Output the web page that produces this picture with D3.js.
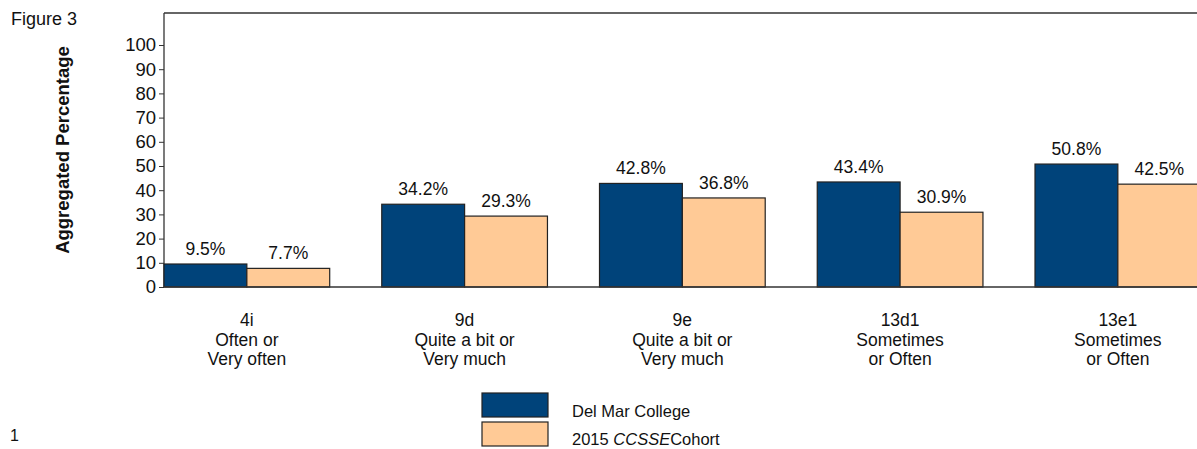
<!DOCTYPE html>
<html><head><meta charset="utf-8">
<script src="https://cdn.jsdelivr.net/npm/d3@7"></script>
<style>body{margin:0;background:#fff}svg{display:block;font-family:"Liberation Sans",Arial,sans-serif}</style>
</head><body><svg id="c" width="1197" height="449"></svg>
<script>
const categories = ["4i","9d","9e","13d1","13e1"];
const categoryLines = [["4i","Often or","Very often"],["9d","Quite a bit or","Very much"],["9e","Quite a bit or","Very much"],["13d1","Sometimes","or Often"],["13e1","Sometimes","or Often"]];
const seriesNames = ["Del Mar College","2015 CCSSE Cohort"];
const delMar = [9.5,34.2,42.8,43.4,50.8];
const cohort = [7.7,29.3,36.8,30.9,42.5];
const yTicks = [0,10,20,30,40,50,60,70,80,90,100];
const colors = ["#00437A","#FFCA96"];

(function(){
const svg = d3.select("#c");
const mLeft = 164, mBottom = 287, mTop = 13;
const step = 217.75;
const x0 = d3.scaleBand().domain(categories).range([mLeft, mLeft + step*categories.length]).paddingInner(0.239).paddingOuter(0.1195).align(0);
const x1 = d3.scaleBand().domain([0,1]).range([0, x0.bandwidth()]);
const y = d3.scaleLinear().domain([0,100]).range([mBottom, 45]);

svg.append("line").attr("x1",mLeft).attr("x2",1197).attr("y1",mTop).attr("y2",mTop).attr("stroke","#333").attr("stroke-width",1.3);
svg.append("line").attr("x1",mLeft).attr("x2",mLeft).attr("y1",mTop).attr("y2",mBottom).attr("stroke","#333").attr("stroke-width",1.3);

const ax = d3.axisLeft(y).tickValues(yTicks).tickSize(5).tickSizeOuter(0).tickPadding(3);
const g = svg.append("g").attr("transform",`translate(${mLeft},0)`).call(ax);
g.select(".domain").remove();
g.selectAll(".tick line").attr("stroke","#333");
g.selectAll(".tick text").attr("font-size",18.5).attr("fill","#111").attr("font-family","'Liberation Sans',Arial,sans-serif");

const series = [delMar, cohort];
categories.forEach((c,i)=>{
  series.forEach((s,j)=>{
    const bx = x0(c)+x1(j), bw = x1.bandwidth();
    svg.append("rect").attr("x",bx).attr("y",y(s[i])).attr("width",bw).attr("height",mBottom-y(s[i]))
      .attr("fill",colors[j]).attr("stroke","#222").attr("stroke-width",1.2);
    svg.append("text").attr("x",bx+bw/2).attr("y",y(s[i])-9).attr("text-anchor","middle")
      .attr("font-size",17.5).attr("fill","#111").text(s[i].toFixed(1)+"%");
  });
  const cx = x0(c)+x0.bandwidth()/2;
  categoryLines[i].forEach((t,k)=>{
    svg.append("text").attr("x",cx).attr("y",326+k*19.5).attr("text-anchor","middle").attr("font-size",17.5).attr("fill","#111").text(t);
  });
});

svg.append("line").attr("x1",mLeft).attr("x2",1197).attr("y1",mBottom).attr("y2",mBottom).attr("stroke","#333").attr("stroke-width",1.5);

svg.append("text").attr("transform",`translate(69,150) rotate(-90)`).attr("text-anchor","middle").attr("font-size",18.5).attr("font-weight","bold").attr("fill","#111").text("Aggregated Percentage");

svg.append("text").attr("x",11).attr("y",25).attr("font-size",18).attr("fill","#111").text("Figure 3");
svg.append("text").attr("x",10).attr("y",441).attr("font-size",16).attr("fill","#111").text("1");

const ly = [393, 422];
seriesNames.forEach((n,j)=>{
  svg.append("rect").attr("x",482).attr("y",ly[j]).attr("width",66).attr("height",24).attr("fill",colors[j]).attr("stroke","#222").attr("stroke-width",1.2);
});
svg.append("text").attr("x",572).attr("y",417).attr("font-size",16.5).attr("fill","#111").text(seriesNames[0]);
const t2 = svg.append("text").attr("x",572).attr("y",445).attr("font-size",16.5).attr("fill","#111");
t2.append("tspan").text("2015 ");
t2.append("tspan").attr("font-style","italic").text("CCSSE");
t2.append("tspan").text("Cohort");
})();
</script></body></html>
